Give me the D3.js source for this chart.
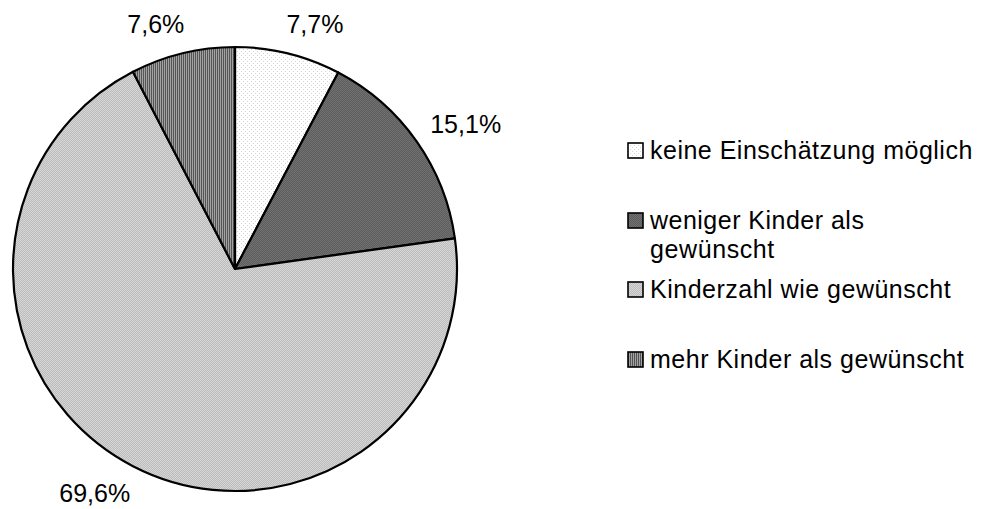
<!DOCTYPE html>
<html>
<head>
<meta charset="utf-8">
<script src="https://cdn.jsdelivr.net/npm/d3@7"></script>
<style>
body { margin: 0; background: #fff; }
text { font-family: "Liberation Sans", Arial, sans-serif; fill: #000; }
</style>
</head>
<body>
<svg></svg>
<script>
var width = 983;
var height = 509;

var categories = ["keine Einschätzung möglich", "weniger Kinder als gewünscht", "Kinderzahl wie gewünscht", "mehr Kinder als gewünscht"];
var legendLines = [["keine Einschätzung möglich"], ["weniger Kinder als", "gewünscht"], ["Kinderzahl wie gewünscht"], ["mehr Kinder als gewünscht"]];
var values = [7.7, 15.1, 69.6, 7.6];
var valueLabels = ["7,7%", "15,1%", "69,6%", "7,6%"];
var patternIds = ["p-dots", "p-dark", "p-light", "p-stripe"];

var cx = 235, cy = 269, radius = 222;
// text in the original runs slightly wider than the font metrics
var widen = 1.04;

var svg = d3.select('svg')
    .attr('width', width)
    .attr('height', height);

var defs = svg.append('defs');

// light dotted fill
var p0 = defs.append('pattern').attr('id', 'p-dots')
    .attr('width', 4).attr('height', 4).attr('patternUnits', 'userSpaceOnUse');
p0.append('rect').attr('width', 4).attr('height', 4).attr('fill', '#ffffff');
p0.append('rect').attr('x', 0).attr('y', 0).attr('width', 1).attr('height', 1).attr('fill', '#d4d4d4');
p0.append('rect').attr('x', 2).attr('y', 2).attr('width', 1).attr('height', 1).attr('fill', '#d4d4d4');

// dark checker fill
var p1 = defs.append('pattern').attr('id', 'p-dark')
    .attr('width', 2).attr('height', 2).attr('patternUnits', 'userSpaceOnUse');
p1.append('rect').attr('width', 2).attr('height', 2).attr('fill', '#5c5c5c');
p1.append('rect').attr('x', 0).attr('y', 0).attr('width', 1).attr('height', 1).attr('fill', '#727272');
p1.append('rect').attr('x', 1).attr('y', 1).attr('width', 1).attr('height', 1).attr('fill', '#727272');

// light checker fill
var p2 = defs.append('pattern').attr('id', 'p-light')
    .attr('width', 2).attr('height', 2).attr('patternUnits', 'userSpaceOnUse');
p2.append('rect').attr('width', 2).attr('height', 2).attr('fill', '#bcbcbc');
p2.append('rect').attr('x', 0).attr('y', 0).attr('width', 1).attr('height', 1).attr('fill', '#d6d6d6');
p2.append('rect').attr('x', 1).attr('y', 1).attr('width', 1).attr('height', 1).attr('fill', '#d6d6d6');

// vertical stripes
var p3 = defs.append('pattern').attr('id', 'p-stripe')
    .attr('width', 2).attr('height', 2).attr('patternUnits', 'userSpaceOnUse');
p3.append('rect').attr('width', 2).attr('height', 2).attr('fill', '#a2a2a2');
p3.append('rect').attr('x', 0).attr('width', 1).attr('height', 2).attr('fill', '#555555');

var pie = d3.pie().sort(null).value(function(d) { return d; });
var arcs = pie(values);

var arc = d3.arc().innerRadius(0).outerRadius(radius);

var g = svg.append('g')
    .attr('transform', 'translate(' + cx + ',' + cy + ')');

g.selectAll('path')
    .data(arcs)
  .enter().append('path')
    .attr('d', arc)
    .attr('fill', function(d, i) { return 'url(#' + patternIds[i] + ')'; })
    .attr('stroke', '#000')
    .attr('stroke-width', 2.2)
    .attr('stroke-linejoin', 'round');

// value labels outside the pie
var labelFont = 25;
var labelR = radius + 30;
g.selectAll('text.val')
    .data(arcs)
  .enter().append('text')
    .attr('class', 'val')
    .attr('font-size', labelFont)
    .attr('text-anchor', 'middle')
    .attr('x', function(d, i) {
        var a = (d.startAngle + d.endAngle) / 2;
        var w = valueLabels[i].length * labelFont * 0.56;
        return labelR * Math.sin(a) + (Math.sin(a) > 0 ? 1 : -1) * w * 0.35;
    })
    .attr('y', function(d) {
        var a = (d.startAngle + d.endAngle) / 2;
        return -labelR * Math.cos(a) + labelFont * 0.36;
    })
    .text(function(d, i) { return valueLabels[i]; });

// legend
var legendFont = 25;
var legendY = [159, 229, 298, 368];
var legend = svg.append('g').attr('class', 'legend');

var items = legend.selectAll('g')
    .data(categories)
  .enter().append('g')
    .attr('transform', function(d, i) { return 'translate(628,' + legendY[i] + ')'; });

items.append('rect')
    .attr('x', 0)
    .attr('y', -16)
    .attr('width', 15)
    .attr('height', 15)
    .attr('fill', function(d, i) { return 'url(#' + patternIds[i] + ')'; })
    .attr('stroke', '#000')
    .attr('stroke-width', 1.6);

items.append('text')
    .attr('x', 22)
    .attr('y', 0)
    .attr('font-size', legendFont)
    .selectAll('tspan')
    .data(function(d, i) { return legendLines[i]; })
  .enter().append('tspan')
    .attr('x', 22)
    .attr('dy', function(d, j) { return j === 0 ? 0 : 29; })
    .text(function(d) { return d; });

svg.selectAll('.legend tspan').each(function() {
    d3.select(this)
      .attr('textLength', this.getComputedTextLength() * widen)
      .attr('lengthAdjust', 'spacing');
});
</script>
</body>
</html>
